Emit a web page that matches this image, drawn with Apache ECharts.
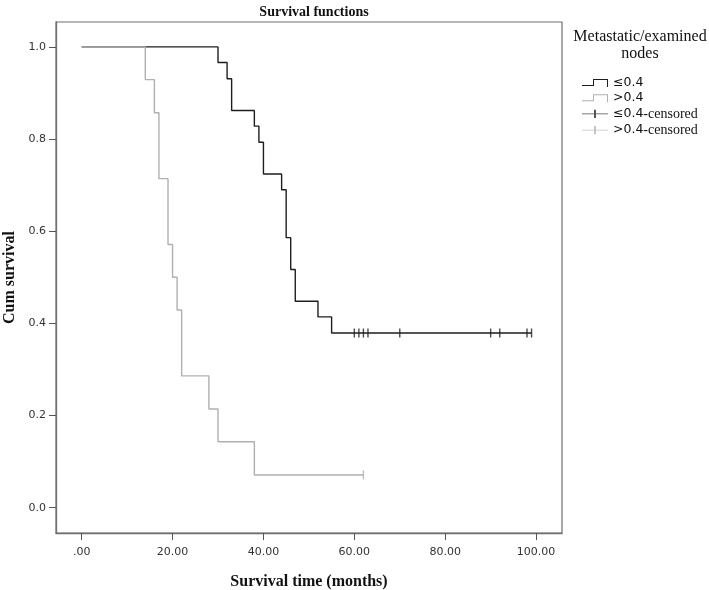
<!DOCTYPE html>
<html>
<head>
<meta charset="utf-8">
<script src="https://cdn.jsdelivr.net/npm/echarts@6/dist/echarts.min.js"></script>
<style>html,body{margin:0;padding:0;background:#fff}#c{width:709px;height:590px}</style>
</head>
<body>
<div id="c"></div>
<script>
// Kaplan-Meier data
var lowTimes = [0, 30, 32, 33, 38, 39, 40, 44, 45, 46, 47, 52, 55, 99];
var lowSurv  = [1, 0.966, 0.931, 0.862, 0.828, 0.793, 0.724, 0.690, 0.586, 0.517, 0.448, 0.414, 0.379, 0.379];
var highTimes = [0, 14, 16, 17, 19, 20, 21, 22, 28, 30, 38, 62];
var highSurv  = [1, 0.929, 0.857, 0.714, 0.571, 0.500, 0.429, 0.286, 0.214, 0.143, 0.071, 0.071];
var lowCensTimes = [60, 61, 62, 63, 70, 90, 92, 98, 99];
var lowCensSurv = 0.379;
var highCensTimes = [62];
var highCensSurv = 0.071;
var xTicks = [0, 20, 40, 60, 80, 100];
var xTickLabels = ['.00', '20.00', '40.00', '60.00', '80.00', '100.00'];
var yTicks = [0, 0.2, 0.4, 0.6, 0.8, 1.0];
var yTickLabels = ['0.0', '0.2', '0.4', '0.6', '0.8', '1.0'];
var seriesNames = ['\u22640.4', '>0.4', '\u22640.4-censored', '>0.4-censored'];

function pairs(xs, ys) { return xs.map(function (x, i) { return [x, Array.isArray(ys) ? ys[i] : ys]; }); }

var BLACK = '#1e1e1e', GRAY = '#b0b0b0';
var stepIcon = 'path://M0,7H12V8H0Z M11,1H12V8H11Z M11,1H26V2H11Z M25,1H26V9H25Z';
var censIcon = 'path://M0,4H28V5H0Z M13,0H15V9H13Z';

var chart = echarts.init(document.getElementById('c'));
chart.setOption({
  animation: false,
  backgroundColor: '#fff',
  title: {
    text: 'Survival functions', left: 309, top: 0, textAlign: 'center',
    textStyle: { fontFamily: 'Liberation Serif', fontWeight: 'bold', fontSize: 14, color: '#111' }
  },
  graphic: [
    { type: 'text', x: 640, y: 29, style: { text: 'Metastatic/examined', align: 'center', fontFamily: 'Liberation Serif', fontSize: 16, fill: '#111' } },
    { type: 'text', x: 640, y: 46, style: { text: 'nodes', align: 'center', fontFamily: 'Liberation Serif', fontSize: 16, fill: '#111' } }
  ],
  legend: {
    orient: 'vertical', left: 582, top: 76.5, padding: 0, itemGap: 2.2, itemWidth: 26, itemHeight: 9,
    selectedMode: false,
    data: [
      { name: seriesNames[0], icon: stepIcon, itemStyle: { color: BLACK, borderWidth: 0 } },
      { name: seriesNames[1], icon: stepIcon, itemStyle: { color: GRAY, borderWidth: 0 } },
      { name: seriesNames[2], icon: censIcon, itemStyle: { color: BLACK, borderWidth: 0 } },
      { name: seriesNames[3], icon: censIcon, itemStyle: { color: GRAY, borderWidth: 0 } }
    ],
    formatter: function (n) {
      var i = n.indexOf('-');
      if (i < 0) return '{a|' + n + '}';
      return '{a|' + n.slice(0, i) + '}{b|' + n.slice(i) + '}';
    },
    textStyle: {
      lineHeight: 13,
      rich: {
        a: { fontFamily: 'DejaVu Sans', fontSize: 12.5, color: '#111', lineHeight: 13 },
        b: { fontFamily: 'Liberation Serif', fontSize: 14, color: '#111', lineHeight: 13 }
      }
    }
  },
  grid: { left: 56, top: 22, right: 147, bottom: 57, show: true, borderColor: '#707070', borderWidth: 1.2,
          containLabel: false, outerBoundsMode: 'none' },
  xAxis: {
    type: 'value', min: -5.65, max: 105.7,
    name: 'Survival time (months)', nameLocation: 'middle', nameGap: 41,
    nameTextStyle: { fontFamily: 'Liberation Serif', fontWeight: 'bold', fontSize: 16, color: '#111' },
    axisLine: { show: true, onZero: false, lineStyle: { color: '#707070', width: 1.3 } },
    axisTick: { show: true, length: 7, customValues: xTicks, lineStyle: { color: '#555' } },
    axisLabel: {
      customValues: xTicks, margin: 14, fontFamily: 'DejaVu Sans', fontSize: 11, color: '#333',
      formatter: function (v) { var i = xTicks.indexOf(v); return i >= 0 ? xTickLabels[i] : ''; }
    },
    splitLine: { show: false }
  },
  yAxis: {
    type: 'value', min: -0.055, max: 1.054,
    name: 'Cum survival', nameLocation: 'middle', nameGap: 34,
    nameTextStyle: { fontFamily: 'Liberation Serif', fontWeight: 'bold', fontSize: 16, color: '#111' },
    axisLine: { show: true, onZero: false, lineStyle: { color: '#707070', width: 1.3 } },
    axisTick: { show: true, length: 7, customValues: yTicks, lineStyle: { color: '#555' } },
    axisLabel: {
      customValues: yTicks, margin: 10, fontFamily: 'DejaVu Sans', fontSize: 11, color: '#333',
      formatter: function (v) {
        for (var i = 0; i < yTicks.length; i++) if (Math.abs(yTicks[i] - v) < 1e-6) return yTickLabels[i];
        return '';
      }
    },
    splitLine: { show: false }
  },
  series: [
    { name: seriesNames[0], type: 'line', step: 'end', data: pairs(lowTimes, lowSurv), showSymbol: false,
      lineStyle: { color: BLACK, width: 1.4 }, itemStyle: { color: BLACK }, z: 2 },
    { name: seriesNames[1], type: 'line', step: 'end', data: pairs(highTimes, highSurv), showSymbol: false,
      lineStyle: { color: GRAY, width: 1.4 }, itemStyle: { color: GRAY }, z: 3 },
    { name: seriesNames[2], type: 'scatter', data: pairs(lowCensTimes, lowCensSurv), symbol: 'rect', symbolSize: [1.4, 9],
      itemStyle: { color: BLACK }, z: 4 },
    { name: seriesNames[3], type: 'scatter', data: pairs(highCensTimes, highCensSurv), symbol: 'rect', symbolSize: [1.4, 9],
      itemStyle: { color: GRAY }, z: 4 }
  ]
});
</script>
</body>
</html>
